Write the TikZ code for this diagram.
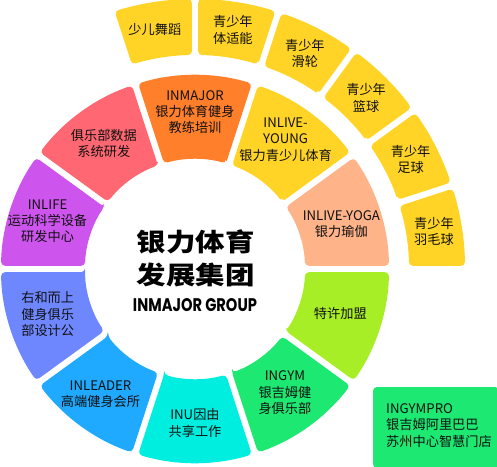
\documentclass[tikz,border=0pt]{standalone}
\usepackage{fontspec}
\setmainfont{Noto Sans CJK SC}
\newfontfamily\popfont{Poppins}
\definecolor{cyel}{HTML}{FFD426}
\definecolor{corange}{HTML}{FF7F2B}
\definecolor{cpeach}{HTML}{FFB389}
\definecolor{clime}{HTML}{A8EE26}
\definecolor{cgreen}{HTML}{1CE872}
\definecolor{ccyan}{HTML}{00EEE0}
\definecolor{cblue}{HTML}{1FA9FF}
\definecolor{cperi}{HTML}{6E87FF}
\definecolor{cpurple}{HTML}{CD55EE}
\definecolor{cpink}{HTML}{FF6872}
\definecolor{ctext}{HTML}{111111}
\newcommand\ringseg[5]{%
  \pgfmathsetmacro\segGi{asin(3.2/#4)}%
  \pgfmathsetmacro\segGo{asin(3.2/#5)}%
  \pgfmathsetmacro\segSa{#2+\segGi}\pgfmathsetmacro\segSb{#2+\segGo}%
  \pgfmathsetmacro\segEa{#3-\segGo}\pgfmathsetmacro\segEb{#3-\segGi}%
  \fill[#1,rounded corners=4pt] (\segSa:#4pt) -- (\segSb:#5pt)
    arc[start angle=\segSb,end angle=\segEa,radius=#5pt] -- (\segEb:#4pt)
    arc[start angle=\segEb,end angle=\segSa,radius=#4pt] -- cycle;}
\begin{document}
\begin{tikzpicture}[x=1pt,y=1pt,
  lbl/.style={align=center,text=ctext,font=\fontsize{13.2}{16.3}\selectfont,inner sep=0pt}]
\useasboundingbox (-195,-197) rectangle (302,269);
% inner ring
\ringseg{cpeach}{0}{36}{110}{194}
\ringseg{cyel}{36}{72}{110}{194}
\ringseg{corange}{72}{108}{110}{194}
\ringseg{cpink}{108}{144}{110}{194}
\ringseg{cpurple}{144}{180}{110}{194}
\ringseg{cperi}{180}{216}{110}{194}
\ringseg{cblue}{216}{252}{110}{194}
\ringseg{ccyan}{252}{288}{110}{194}
\ringseg{cgreen}{288}{324}{110}{194}
\ringseg{clime}{324}{360}{110}{194}
% outer ring
\ringseg{cyel}{0}{18}{214}{270}
\ringseg{cyel}{18}{36}{214}{270}
\ringseg{cyel}{36}{54}{214}{270}
\ringseg{cyel}{54}{72}{214}{270}
\ringseg{cyel}{72}{90}{214}{270}
\ringseg{cyel}{90}{108}{214}{270}
% inner labels
\node[lbl] (yoga) at (17:153) {INLIVE-YOGA\\银力瑜伽};
\node[lbl] (young) at (55:158) {INLIVE-\\YOUNG\\银力青少儿体育};
\node[lbl] (major) at (90:157) {INMAJOR\\银力体育健身\\教练培训};
\node[lbl] (club) at (126:155) {俱乐部数据\\系统研发};
\node[lbl] (life) at (162:155) {INLIFE\\运动科学设备\\研发中心};
\node[lbl] (youhe) at (197:154) {右和而上\\健身俱乐\\部设计公};
\node[lbl] (leader) at (233:157) {INLEADER\\高端健身会所};
\node[lbl] (inu) at (270:154) {INU因由\\共享工作};
\node[lbl] (gym) at (306:153) {INGYM\\银吉姆健\\身俱乐部};
\node[lbl] (fran) at (343:152) {特许加盟};
% outer labels
\node[lbl] (dance) at (99.5:243) {少儿舞蹈};
\node[lbl] (fit) at (81:242) {青少年\\体适能};
\node[lbl] (skate) at (63:242) {青少年\\滑轮};
\node[lbl] (bask) at (45:242) {青少年\\篮球};
\node[lbl] (foot) at (27:242) {青少年\\足球};
\node[lbl] (badm) at (9:242) {青少年\\羽毛球};
% centre title
\node[inner sep=0pt,text=black] (t1) at (1,27.5) {\scalebox{1.18}[1]{\fontsize{25}{30}\selectfont\bfseries 银力体育}};
\node[inner sep=0pt,text=black] (t2) at (1,-6) {\scalebox{1.18}[1]{\fontsize{25}{30}\selectfont\bfseries 发展集团}};
\node[inner sep=0pt,text=black] (t3) at (0,-36.5) {\resizebox{124pt}{13pt}{\popfont\bfseries INMAJOR GROUP}};
% INGYMPRO box
\fill[cgreen,rounded corners=4pt] (178,-118) rectangle (304,-199);
\node[lbl,align=left,anchor=west] (pro) at (191,-156.5) {INGYMPRO\\银吉姆阿里巴巴\\苏州中心智慧门店};
\end{tikzpicture}
\end{document}
